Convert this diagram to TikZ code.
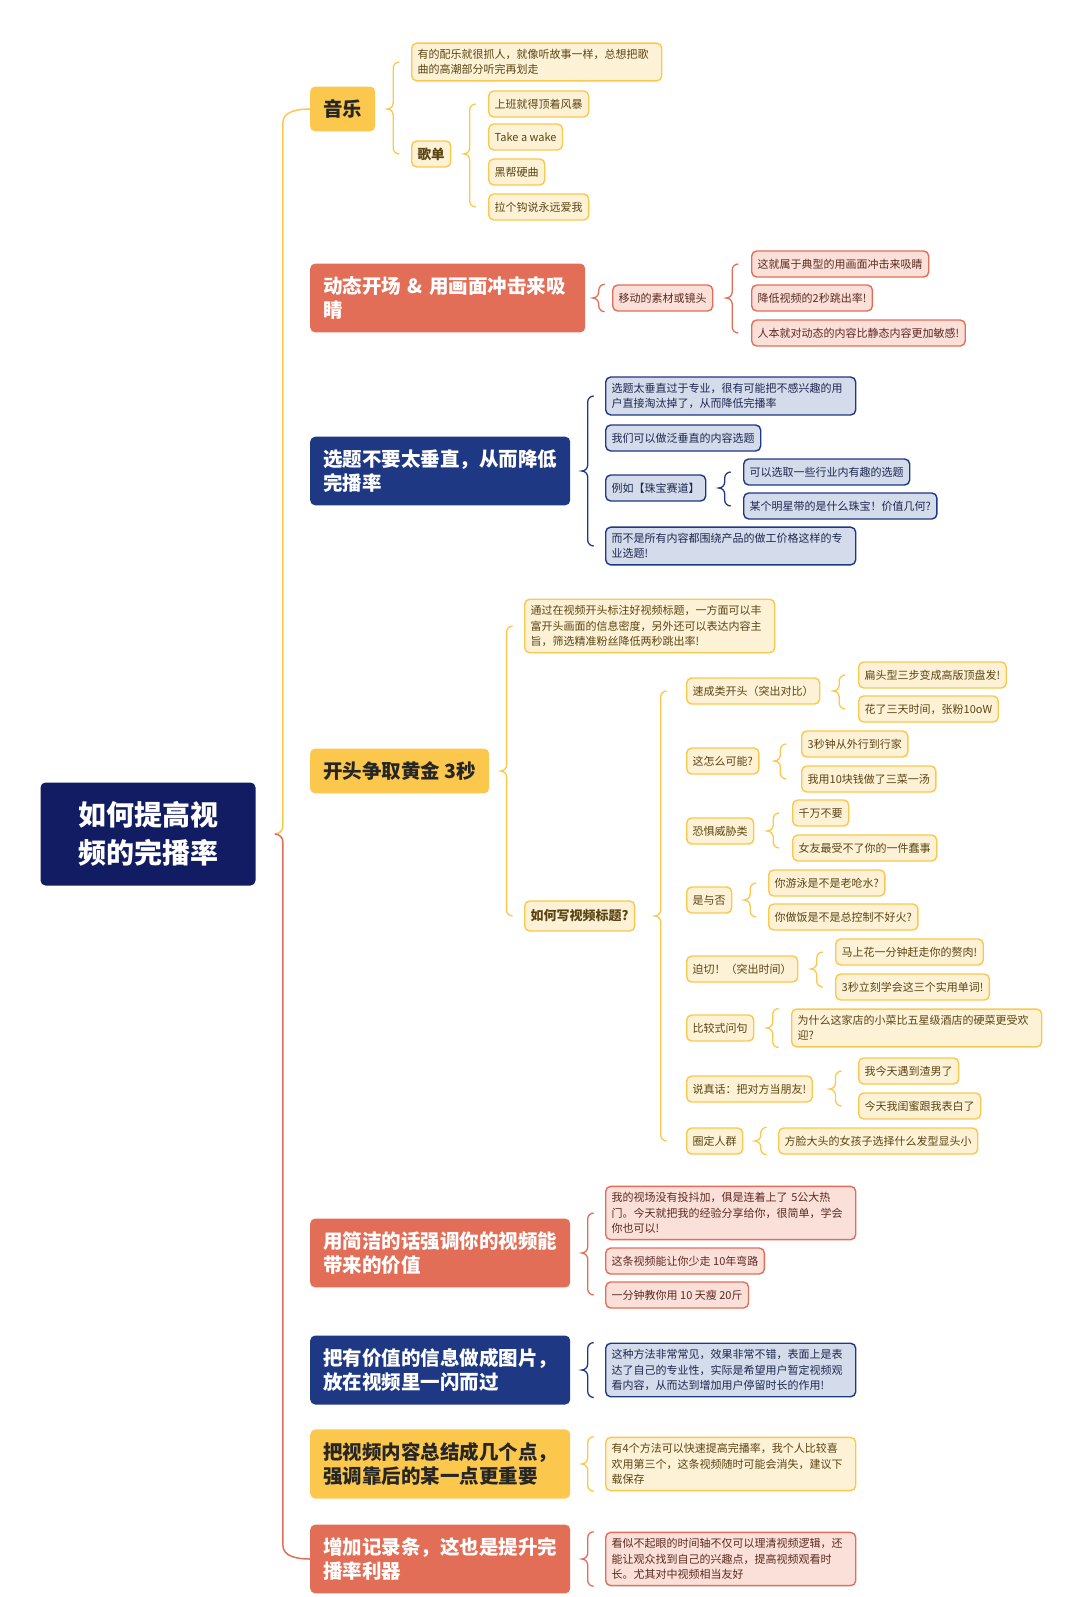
\documentclass[tikz,border=0pt]{standalone}
\usepackage{fontspec}
\setmainfont{Noto Sans CJK SC}
\usetikzlibrary{calc}
\definecolor{rootblue}{HTML}{111C62}
\definecolor{ybold}{HTML}{FBC74C}
\definecolor{yfill}{HTML}{FEF2D6}
\definecolor{ytext}{HTML}{5A4414}
\definecolor{rbold}{HTML}{E36E58}
\definecolor{rfill}{HTML}{FBE0DA}
\definecolor{rtext}{HTML}{5A2A20}
\definecolor{bbold}{HTML}{1E3883}
\definecolor{bfill}{HTML}{D4DBEA}
\definecolor{btext}{HTML}{1E2850}
\tikzset{
  base/.style={anchor=west, rounded corners=5pt, align=left, inner sep=6pt},
  topic/.style={base, font=\fontsize{19.5}{24}\selectfont\bfseries, inner sep=13pt, minimum height=42pt},
  topicY/.style={topic, fill=ybold, text=black!85},
  topicR/.style={topic, fill=rbold, text=white},
  topicB/.style={topic, fill=bbold, text=white},
  leaf/.style={base, line width=1.4pt, font=\fontsize{11}{15.5}\selectfont, minimum height=26pt},
  leafY/.style={leaf, draw=ybold, fill=yfill, text=ytext},
  leafR/.style={leaf, draw=rbold, fill=rfill, text=rtext},
  leafB/.style={leaf, draw=bbold, fill=bfill, text=btext},
}
% curly brace from parent to its children
\newcommand{\brc}[4]{%
  \draw[#1, line width=1.3pt] let \p1=(#2.east), \p2=(#3), \p3=(#4), \n1={(\x1+\x2)/2} in
    ({\n1+6pt},\y2) to[out=180,in=90] (\n1,{\y2-6pt}) -- (\n1,{\y1+6pt})
    to[out=-90,in=0] ({\n1-6pt},\y1) to[out=0,in=90] (\n1,{\y1-6pt})
    -- (\n1,{\y3+6pt}) to[out=-90,in=180] ({\n1+6pt},\y3);}
\begin{document}
\begin{tikzpicture}[x=1pt,y=-1pt]
\useasboundingbox (0,0) rectangle (1080,1597);
% root
\node[base, fill=rootblue, text=white, font=\fontsize{28}{38}\selectfont\bfseries,
  minimum width=215pt, minimum height=103pt, align=center, anchor=center] (root) at (148,834) {如何提高视\\频的完播率};
% main topics
\node[topicY] (music) at (310,109) {音乐};
\node[topicR, text width=249pt] (open) at (310,298) {动态开场 \& 用画面冲击来吸\\睛};
\node[topicB] (topic) at (310,471) {选题不要太垂直，从而降低\\完播率};
\node[topicY] (gold) at (310,771) {开头争取黄金 3秒};
\node[topicR] (value) at (310,1253) {用简洁的话强调你的视频能\\带来的价值};
\node[topicB] (pic) at (310,1370) {把有价值的信息做成图片，\\放在视频里一闪而过};
\node[topicY] (sum) at (310,1464) {把视频内容总结成几个点，\\强调靠后的某一点更重要};
\node[topicR] (bar) at (310,1559) {增加记录条，这也是提升完\\播率利器};
% music
\node[leafY, text width=238pt] (m1) at (411,62) {有的配乐就很抓人，就像听故事一样，总想把歌\\曲的高潮部分听完再划走};
\node[leafY, font=\fontsize{13.5}{16}\selectfont\bfseries] (list) at (411,154) {歌单};
\node[leafY] (s1) at (488,104) {上班就得顶着风暴};
\node[leafY] (s2) at (488,137) {Take a wake};
\node[leafY] (s3) at (488,172) {黑帮硬曲};
\node[leafY] (s4) at (488,207) {拉个钩说永远爱我};
% opening
\node[leafR] (move) at (612,298) {移动的素材或镜头};
\node[leafR] (o1) at (751,264) {这就属于典型的用画面冲击来吸睛};
\node[leafR] (o2) at (751,298) {降低视频的2秒跳出率!};
\node[leafR] (o3) at (751,333) {人本就对动态的内容比静态内容更加敏感!};
% topic choice
\node[leafB, text width=238pt] (t1) at (605,396) {选题太垂直过于专业，很有可能把不感兴趣的用\\户直接淘汰掉了，从而降低完播率};
\node[leafB] (t2) at (605,438) {我们可以做泛垂直的内容选题};
\node[leafB] (t3) at (605,488) {例如【珠宝赛道】};
\node[leafB] (t31) at (743,472) {可以选取一些行业内有趣的选题};
\node[leafB] (t32) at (743,506) {某个明星带的是什么珠宝！价值几何?};
\node[leafB, text width=238pt] (t4) at (605,546) {而不是所有内容都围绕产品的做工价格这样的专\\业选题!};
% golden 3 seconds
\node[leafY, text width=238pt] (g1) at (524,626) {通过在视频开头标注好视频标题，一方面可以丰\\富开头画面的信息密度，另外还可以表达内容主\\旨，筛选精准粉丝降低两秒跳出率!};
\node[leafY, font=\fontsize{13}{15}\selectfont\bfseries, minimum height=30pt] (how) at (524,916) {如何写视频标题?};
\node[leafY] (h1) at (686,691) {速成类开头（突出对比）};
\node[leafY] (h11) at (858,675) {扁头型三步变成高版顶盘发!};
\node[leafY] (h12) at (858,709) {花了三天时间，张粉10oW};
\node[leafY] (h2) at (686,761) {这怎么可能?};
\node[leafY] (h21) at (801,744) {3秒钟从外行到行家};
\node[leafY] (h22) at (801,779) {我用10块钱做了三菜一汤};
\node[leafY] (h3) at (686,831) {恐惧威胁类};
\node[leafY] (h31) at (792,813) {千万不要};
\node[leafY] (h32) at (792,848) {女友最受不了你的一件蠢事};
\node[leafY] (h4) at (686,900) {是与否};
\node[leafY] (h41) at (768,883) {你游泳是不是老呛水?};
\node[leafY] (h42) at (768,917) {你做饭是不是总控制不好火?};
\node[leafY] (h5) at (686,969) {迫切！（突出时间）};
\node[leafY] (h51) at (835,952) {马上花一分钟赶走你的赘肉!};
\node[leafY] (h52) at (835,987) {3秒立刻学会这三个实用单词!};
\node[leafY] (h6) at (686,1028) {比较式问句};
\node[leafY, text width=238pt] (h61) at (791,1028) {为什么这家店的小菜比五星级酒店的硬菜更受欢\\迎?};
\node[leafY] (h7) at (686,1089) {说真话：把对方当朋友!};
\node[leafY] (h71) at (858,1071) {我今天遇到渣男了};
\node[leafY] (h72) at (858,1106) {今天我闺蜜跟我表白了};
\node[leafY] (h8) at (686,1141) {圈定人群};
\node[leafY] (h81) at (778,1141) {方脸大头的女孩子选择什么发型显头小};
% value
\node[leafR, text width=238pt] (v1) at (605,1213) {我的视场没有投抖加，俱是连着上了 5公大热\\门。今天就把我的经验分享给你，很简单，学会\\你也可以!};
\node[leafR] (v2) at (605,1261) {这条视频能让你少走 10年弯路};
\node[leafR] (v3) at (605,1295) {一分钟教你用 10 天瘦 20斤};
% picture
\node[leafB, text width=238pt] (p1) at (605,1370) {这种方法非常常见，效果非常不错，表面上是表\\达了自己的专业性，实际是希望用户暂定视频观\\看内容，从而达到增加用户停留时长的作用!};
% summary
\node[leafY, text width=238pt] (u1) at (605,1464) {有4个方法可以快速提高完播率，我个人比较喜\\欢用第三个，这条视频随时可能会消失，建议下\\载保存};
% bar
\node[leafR, text width=238pt] (b1) at (605,1559) {看似不起眼的时间轴不仅可以理清视频逻辑，还\\能让观众找到自己的兴趣点，提高视频观看时\\长。尤其对中视频相当友好};
% root brace
\draw[ybold, line width=1.5pt] let \p1=(root.east), \p2=(music.west), \n1={(\x1+\x2)/2} in
  (\x2,\y2) to[out=180,in=90] (\n1,{\y2-14pt}) -- (\n1,{\y1+8pt}) to[out=-90,in=0] ({\n1-8pt},\y1);
\draw[rbold, line width=1.5pt] let \p1=(root.east), \p2=(bar.west), \n1={(\x1+\x2)/2} in
  ({\n1-8pt},\y1) to[out=0,in=90] (\n1,{\y1-8pt}) -- (\n1,{\y2+14pt}) to[out=-90,in=180] (\x2,\y2);
% braces
\brc{ybold}{music}{m1.west}{list.west}
\brc{ybold}{list}{s1.west}{s4.west}
\brc{rbold}{open}{move.north west}{move.south west}
\brc{rbold}{move}{o1.west}{o3.west}
\brc{bbold}{topic}{t1.west}{t4.west}
\brc{bbold}{t3}{t31.west}{t32.west}
\brc{ybold}{gold}{g1.west}{how.west}
\brc{ybold}{how}{h1.west}{h8.west}
\brc{ybold}{h1}{h11.west}{h12.west}
\brc{ybold}{h2}{h21.west}{h22.west}
\brc{ybold}{h3}{h31.west}{h32.west}
\brc{ybold}{h4}{h41.west}{h42.west}
\brc{ybold}{h5}{h51.west}{h52.west}
\brc{ybold}{h6}{h61.north west}{h61.south west}
\brc{ybold}{h7}{h71.west}{h72.west}
\brc{ybold}{h8}{h81.north west}{h81.south west}
\brc{rbold}{value}{v1.west}{v3.west}
\brc{bbold}{pic}{p1.north west}{p1.south west}
\brc{ybold}{sum}{u1.north west}{u1.south west}
\brc{rbold}{bar}{b1.north west}{b1.south west}
\end{tikzpicture}
\end{document}
